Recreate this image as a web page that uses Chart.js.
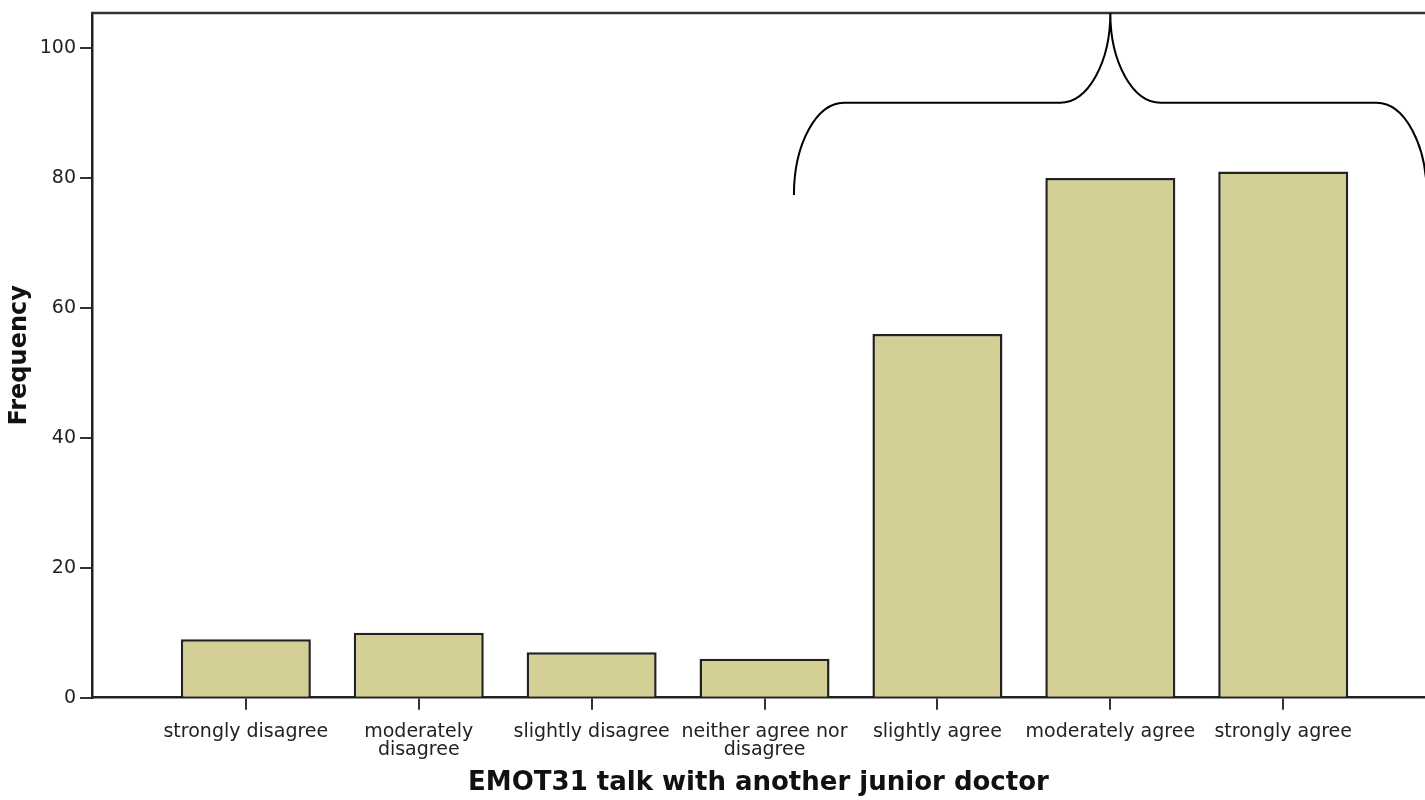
<!DOCTYPE html>
<html lang="en">
<head>
<meta charset="UTF-8">
<title>EMOT31 talk with another junior doctor</title>
<script src="https://cdn.jsdelivr.net/npm/chart.js"></script>
<style>
    body {
        margin: 0;
        background: #fff;
        overflow: hidden;
    }
    canvas {
        display: block;
    }
</style>
</head>
<body>

<canvas id="chart" width="1425" height="800"></canvas>

<script>
const categories = ['strongly disagree', 'moderately disagree', 'slightly disagree', 'neither agree nor disagree', 'slightly agree', 'moderately agree', 'strongly agree'];
const tickLabels = [['strongly disagree'], ['moderately', 'disagree'], ['slightly disagree'], ['neither agree nor', 'disagree'], ['slightly agree'], ['moderately agree'], ['strongly agree']];
const frequency = [9, 10, 7, 6, 56, 80, 81];
const yTicks = [0, 20, 40, 60, 80, 100];

// curly brace drawn over the "agree" bars, in axis units
const brace = { from: 3.17, to: 6.83, tip: 5, level: 91.6, foot: 77.4, bend: 0.29 };

const tickFont = { family: 'DejaVu Sans', size: 19, lineHeight: 0.95 };
const titleFont = { family: 'DejaVu Sans', size: 26, weight: 'bold' };

const framePlugin = {
    id: 'frame',
    afterDraw(chart) {
        const { ctx, chartArea, scales: { x, y } } = chart;
        ctx.save();

        // top edge of the plot frame
        ctx.strokeStyle = '#333';
        ctx.lineWidth = 2.5;
        ctx.beginPath();
        ctx.moveTo(chartArea.left - 1, chartArea.top);
        ctx.lineTo(chartArea.right, chartArea.top);
        ctx.stroke();

        // brace
        const k = 0.5523;
        const x0 = x.getPixelForValue(brace.from);
        const x1 = x.getPixelForValue(brace.from + brace.bend);
        const x2 = x.getPixelForValue(brace.tip - brace.bend);
        const xt = x.getPixelForValue(brace.tip);
        const x3 = x.getPixelForValue(brace.tip + brace.bend);
        const x4 = x.getPixelForValue(brace.to - brace.bend);
        const x5 = x.getPixelForValue(brace.to);
        const yf = y.getPixelForValue(brace.foot);
        const yl = y.getPixelForValue(brace.level);
        const yt = chartArea.top;

        ctx.strokeStyle = '#000';
        ctx.lineWidth = 2;
        ctx.beginPath();
        ctx.moveTo(x0, yf);
        ctx.bezierCurveTo(x0, yf - k * (yf - yl), x1 - k * (x1 - x0), yl, x1, yl);
        ctx.lineTo(x2, yl);
        ctx.bezierCurveTo(x2 + k * (xt - x2), yl, xt, yt + k * (yl - yt), xt, yt);
        ctx.bezierCurveTo(xt, yt + k * (yl - yt), x3 - k * (x3 - xt), yl, x3, yl);
        ctx.lineTo(x4, yl);
        ctx.bezierCurveTo(x4 + k * (x5 - x4), yl, x5, yf - k * (yf - yl), x5, yf);
        ctx.stroke();

        ctx.restore();
    }
};

new Chart(document.getElementById('chart'), {
    type: 'bar',
    data: {
        datasets: [{
            label: 'Frequency',
            data: frequency.map((v, i) => ({ x: i, y: v })),
            backgroundColor: '#d4cf94',
            borderColor: '#222',
            borderWidth: 2.5,
            barPercentage: 0.752,
            categoryPercentage: 1
        }]
    },
    options: {
        responsive: false,
        animation: false,
        devicePixelRatio: 1,
        layout: { padding: { left: 0, right: 0, top: 13, bottom: 0 } },
        plugins: {
            legend: { display: false },
            tooltip: { enabled: false }
        },
        scales: {
            x: {
                type: 'linear',
                min: -0.89,
                max: 6.82,
                offset: false,
                afterBuildTicks: s => { s.ticks = categories.map((c, i) => ({ value: i })); },
                ticks: {
                    callback: v => tickLabels[v],
                    font: tickFont,
                    color: '#222',
                    padding: 13,
                    maxRotation: 0,
                    autoSkip: false
                },
                grid: { offset: false, drawOnChartArea: false, tickLength: 12, color: '#333', lineWidth: 2 },
                border: { color: '#222', width: 2.5 },
                title: {
                    display: true,
                    text: 'EMOT31 talk with another junior doctor',
                    font: titleFont,
                    color: '#111',
                    padding: { top: -4, bottom: 1 }
                }
            },
            y: {
                min: 0,
                max: 105.4,
                afterBuildTicks: s => { s.ticks = yTicks.map(v => ({ value: v })); },
                ticks: { font: tickFont, color: '#222', padding: 4 },
                grid: { drawOnChartArea: false, tickLength: 12, color: '#333', lineWidth: 2 },
                border: { color: '#222', width: 2.5 },
                title: {
                    display: true,
                    text: 'Frequency',
                    font: { family: 'DejaVu Sans', size: 24, weight: 'bold' },
                    color: '#111',
                    padding: { top: 5.6, bottom: 1.3 }
                }
            }
        }
    },
    plugins: [framePlugin]
});
</script>

</body>
</html>
